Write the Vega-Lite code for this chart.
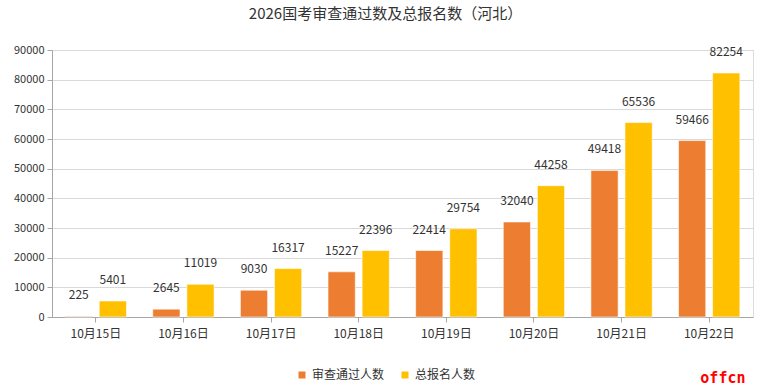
{
  "$schema": "https://vega.github.io/schema/vega-lite/v6.json",
  "width": 701,
  "height": 267,
  "autosize": {"type": "none"},
  "padding": {"left": 52, "top": 50, "right": 16, "bottom": 75},
  "background": "white",
  "title": {
    "text": "2026国考审查通过数及总报名数（河北）",
    "font": "Noto Sans CJK SC",
    "fontSize": 15,
    "fontWeight": "normal",
    "color": "#333333",
    "anchor": "middle",
    "dx": -17,
    "offset": 22
  },
  "data": {
    "values": [
      {"date": "10月15日", "series": "审查通过人数", "value": 225},
      {"date": "10月15日", "series": "总报名人数", "value": 5401},
      {"date": "10月16日", "series": "审查通过人数", "value": 2645},
      {"date": "10月16日", "series": "总报名人数", "value": 11019},
      {"date": "10月17日", "series": "审查通过人数", "value": 9030},
      {"date": "10月17日", "series": "总报名人数", "value": 16317},
      {"date": "10月18日", "series": "审查通过人数", "value": 15227},
      {"date": "10月18日", "series": "总报名人数", "value": 22396},
      {"date": "10月19日", "series": "审查通过人数", "value": 22414},
      {"date": "10月19日", "series": "总报名人数", "value": 29754},
      {"date": "10月20日", "series": "审查通过人数", "value": 32040},
      {"date": "10月20日", "series": "总报名人数", "value": 44258},
      {"date": "10月21日", "series": "审查通过人数", "value": 49418},
      {"date": "10月21日", "series": "总报名人数", "value": 65536},
      {"date": "10月22日", "series": "审查通过人数", "value": 59466},
      {"date": "10月22日", "series": "总报名人数", "value": 82254}
    ]
  },
  "encoding": {
    "x": {
      "field": "date",
      "type": "nominal",
      "sort": null,
      "scale": {"paddingInner": 0.3, "paddingOuter": 0.15},
      "axis": {
        "title": "offcn",
        "titleFont": "DejaVu Sans Mono",
        "titleFontSize": 15,
        "titleFontWeight": "bold",
        "titleColor": "#ff0000",
        "titleAlign": "right",
        "titleBaseline": "middle",
        "titleX": 693,
        "titleY": 60,
        "labelAngle": 0,
        "labelFont": "Noto Sans CJK SC",
        "labelFontSize": 12,
        "labelColor": "#333333",
        "labelPadding": 6,
        "domainColor": "#a6a6a6",
        "tickColor": "#a6a6a6",
        "tickSize": 5,
        "grid": false
      }
    },
    "xOffset": {
      "field": "series",
      "type": "nominal",
      "sort": ["审查通过人数", "总报名人数"],
      "scale": {"paddingInner": 0.2, "paddingOuter": 0}
    },
    "y": {
      "field": "value",
      "type": "quantitative",
      "scale": {"domain": [0, 90000], "nice": false},
      "axis": {
        "title": null,
        "values": [0, 10000, 20000, 30000, 40000, 50000, 60000, 70000, 80000, 90000],
        "format": "d",
        "labelFont": "Noto Sans CJK SC",
        "labelFontSize": 11,
        "labelColor": "#333333",
        "domainColor": "#a6a6a6",
        "tickColor": "#a6a6a6",
        "tickSize": 5,
        "gridColor": "#d9d9d9",
        "labelPadding": 3
      }
    },
    "color": {
      "field": "series",
      "type": "nominal",
      "sort": ["审查通过人数", "总报名人数"],
      "scale": {"domain": ["审查通过人数", "总报名人数"], "range": ["#ED7D31", "#FFC000"]},
      "legend": {
        "title": null,
        "orient": "none",
        "direction": "horizontal",
        "legendX": 244,
        "legendY": 319,
        "symbolType": "square",
        "symbolSize": 49,
        "symbolStrokeWidth": 0,
        "labelFont": "Noto Sans CJK SC",
        "labelFontSize": 12,
        "labelColor": "#333333",
        "columnPadding": 14
      }
    }
  },
  "layer": [
    {
      "mark": {"type": "bar", "stroke": "#ffffff", "strokeWidth": 1, "strokeOpacity": 0.6}
    },
    {
      "mark": {"type": "text", "baseline": "middle", "dy": -21, "font": "Noto Sans CJK SC", "fontSize": 12, "color": "#333333"},
      "encoding": {
        "text": {"field": "value", "type": "quantitative", "format": "d"},
        "color": {"value": "#333333"}
      }
    }
  ]
}
